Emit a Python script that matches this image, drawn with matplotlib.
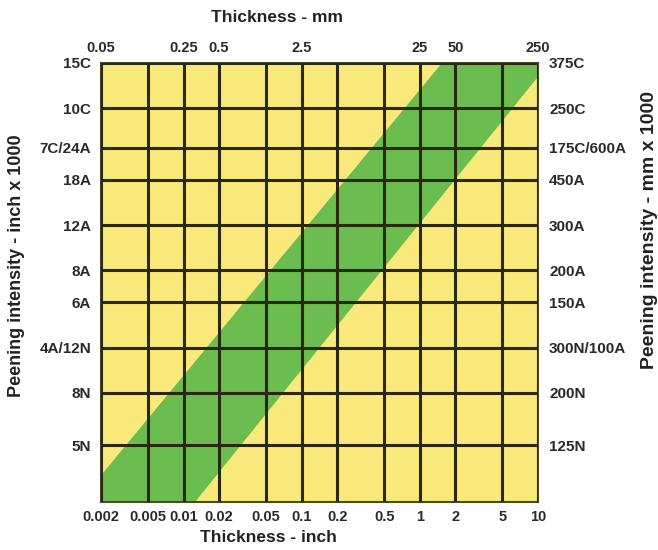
import matplotlib
matplotlib.use("Agg")
import matplotlib.pyplot as plt
from matplotlib.ticker import NullLocator, NullFormatter

plt.rcParams['font.family'] = ['Liberation Sans', 'DejaVu Sans']
plt.rcParams['font.weight'] = 'bold'

# thickness axis (inch, bottom) and mm labels (top, 25 mm per inch)
thk_inch = [0.002, 0.005, 0.01, 0.02, 0.05, 0.1, 0.2, 0.5, 1, 2, 5, 10]
thk_inch_labels = ['0.002', '0.005', '0.01', '0.02', '0.05', '0.1', '0.2', '0.5', '1', '2', '5', '10']
thk_mm = [0.05, 0.25, 0.5, 2.5, 25, 50, 250]
thk_mm_labels = ['0.05', '0.25', '0.5', '2.5', '25', '50', '250']

# Almen intensity, converted to A-equivalents (7C = 24A, 4A = 12N)
c_to_a = 24 / 7
n_to_a = 4 / 12
int_values = [15, 10, 7, 18, 12, 8, 6, 4, 8, 5]
int_strips = ['C', 'C', 'C', 'A', 'A', 'A', 'A', 'A', 'N', 'N']
left_labels = ['15C', '10C', '7C/24A', '18A', '12A', '8A', '6A', '4A/12N', '8N', '5N']
right_labels = ['375C', '250C', '175C/600A', '450A', '300A', '200A', '150A',
                '300N/100A', '200N', '125N']
y_bottom = 1.0  # 3N / 1A

# recommended band (thickness inch, intensity in A-equivalent)
band_thk = [0.002, 0.002, 1.54, 10, 10, 0.0125]
band_int = [1.0, 1.27, 51.43, 51.43, 45.4, 1.0]

conv = {'C': c_to_a, 'A': 1.0, 'N': n_to_a}
y_ticks = [v * conv[s] for v, s in zip(int_values, int_strips)]

yellow = '#f9e97a'
green = '#6cbd4f'
dark = '#2b2812'
txt = '#2a2a2a'

fig = plt.figure(figsize=(6.58, 5.5), dpi=100)
ax = fig.add_axes([0.1535, 0.0873, 0.664, 0.7982])
ax.set_facecolor(yellow)
ax.set_xscale('log')
ax.set_yscale('log')
ax.set_xlim(thk_inch[0], thk_inch[-1])
ax.set_ylim(y_bottom, max(y_ticks))

ax.fill(band_thk, band_int, color=green, lw=0, zorder=1)

ax.set_xticks(thk_inch, thk_inch_labels)
ax.set_yticks(y_ticks, left_labels)
ax.xaxis.set_minor_locator(NullLocator())
ax.yaxis.set_minor_locator(NullLocator())
ax.grid(True, color=dark, lw=2.2)
ax.set_axisbelow(False)
ax.tick_params(length=0, labelsize=11, colors=txt)
ax.tick_params(axis='x', pad=6, labelsize=10.5)
ax.tick_params(axis='y', pad=7)
for s in ax.spines.values():
    s.set_color('#4a4a2a')
    s.set_linewidth(1.5)

top = ax.secondary_xaxis('top', functions=(lambda x: x * 25, lambda x: x / 25))
top.set_xticks(thk_mm, thk_mm_labels)
top.xaxis.set_minor_locator(NullLocator())
top.xaxis.set_minor_formatter(NullFormatter())
top.tick_params(length=0, labelsize=10.5, colors=txt, pad=6)
top.spines['top'].set_visible(False)

right = ax.secondary_yaxis('right')
right.set_yticks(y_ticks, right_labels)
right.yaxis.set_minor_locator(NullLocator())
right.yaxis.set_minor_formatter(NullFormatter())
right.tick_params(length=0, labelsize=11, colors=txt, pad=8)
right.spines['right'].set_visible(False)

fig.text(277 / 658, 1 - 18 / 550, 'Thickness - mm', ha='center', va='center',
         fontsize=12.5, color='#222222')
fig.text(268 / 658, 1 - 538 / 550, 'Thickness - inch', ha='center', va='center',
         fontsize=12.5, color='#222222')
fig.text(17 / 658, 1 - 266 / 550, 'Peening intensity - inch x 1000', rotation=90,
         ha='center', va='center', fontsize=13, color='#222222')
fig.text(650 / 658, 1 - 230 / 550, 'Peening intensity - mm x 1000', rotation=90,
         ha='center', va='center', fontsize=14, color='#222222')

fig.savefig('out.png', dpi=100)
